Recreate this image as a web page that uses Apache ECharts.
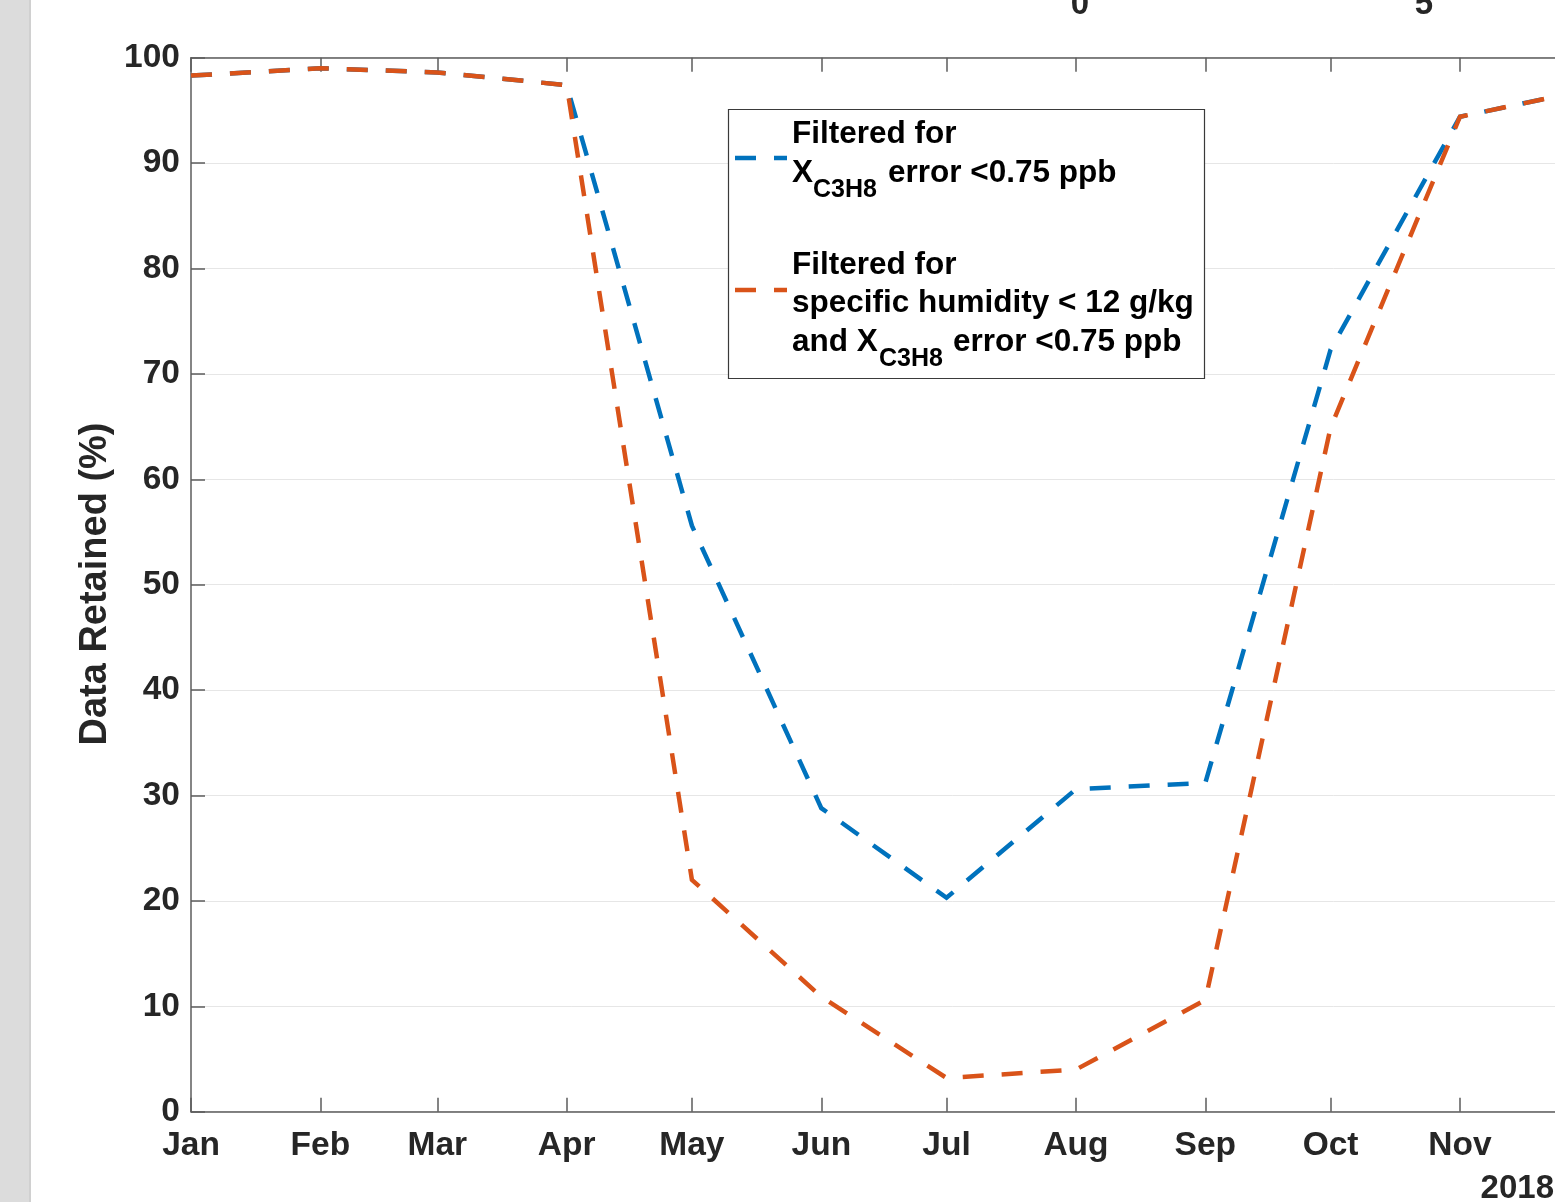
<!DOCTYPE html>
<html>
<head>
<meta charset="utf-8">
<title>Data Retained (%)</title>
<script src="https://cdn.jsdelivr.net/npm/echarts@6/dist/echarts.min.js"></script>
<style>
  html, body { margin: 0; padding: 0; background: #ffffff; overflow: hidden; }
  #chart { width: 1800px; height: 1202px; }
</style>
</head>
<body>
<div id="chart"></div>
<script>
// Monthly share of soundings kept after each filter, 2018
const monthNames = ['Jan', 'Feb', 'Mar', 'Apr', 'May', 'Jun', 'Jul', 'Aug', 'Sep', 'Oct', 'Nov', 'Dec'];
const sampleDates = ['2018-01-01', '2018-02-01', '2018-03-01', '2018-04-01', '2018-05-01', '2018-06-01',
                     '2018-07-01', '2018-08-01', '2018-09-01', '2018-10-01', '2018-11-01', '2018-12-01'];
const errorFiltered    = [98.3, 99.0, 98.6, 97.4, 55.6, 28.8, 20.3, 30.6, 31.2, 72.3, 94.4, 96.9];
const humidityFiltered = [98.3, 99.0, 98.6, 97.4, 22.0, 10.9, 3.2, 4.0, 10.6, 64.9, 94.4, 96.9];
const axisStart = '2018-01-01';
const axisEnd = '2019-01-01';
const yMin = 0, yMax = 100, yStep = 10;
const yearLabel = '2018';
const upperTickTexts = [['0', 1080], ['5', 1424]];

const FONT = '"Liberation Sans", Arial, Helvetica, sans-serif';
const TEXT = '#262626';
const AXIS = '#5c5c5c';
const BLUE = '#0072BD';
const ORANGE = '#D95319';
const DASH = [21, 18];
const DAY = 86400000;

// days elapsed since the start of the axis (UTC, so no DST shifts)
function utc(s) {
  const p = s.split('-').map(Number);
  return Date.UTC(p[0], p[1] - 1, p[2]);
}
const t0 = utc(axisStart);
const toDay = (s) => (utc(s) - t0) / DAY;
const dayToMonth = (d) => monthNames[new Date(t0 + d * DAY).getUTCMonth()];
const monthTicks = sampleDates.map(toDay);
const pairs = (vals) => sampleDates.map((d, i) => [toDay(d), vals[i]]);

const chart = echarts.init(document.getElementById('chart'), null, { renderer: 'canvas' });

const legendText = (text, x, y, size) => ({
  type: 'text', x: x, y: y, z: 102, silent: true,
  style: { text: text, fill: '#000', font: 'bold ' + size + 'px ' + FONT, align: 'left', verticalAlign: 'middle' }
});
const legendSample = (color, y) => ({
  type: 'line', z: 102, silent: true,
  shape: { x1: 735, y1: y, x2: 787, y2: y },
  style: { stroke: color, lineWidth: 4.5, lineDash: DASH, lineCap: 'butt' }
});

const LG = 31.5, SUB = 25;
const graphics = [
  { type: 'rect', z: 100, silent: true, shape: { x: 0, y: 0, width: 30, height: 1202 }, style: { fill: '#dcdcdc' } },
  { type: 'rect', z: 100, silent: true, shape: { x: 29, y: 0, width: 2, height: 1202 }, style: { fill: '#d0d0d0' } },
  {
    type: 'text', x: 96, y: 584, rotation: Math.PI / 2, z: 100, silent: true,
    style: { text: 'Data Retained (%)', fill: TEXT, font: 'bold 38px ' + FONT, align: 'center', verticalAlign: 'middle' }
  },
  {
    type: 'text', x: 1554, y: 1189, z: 100, silent: true,
    style: { text: yearLabel, fill: TEXT, font: 'bold 33px ' + FONT, align: 'right', verticalAlign: 'middle' }
  },
  // legend box
  {
    type: 'rect', z: 101, silent: true,
    shape: { x: 728.5, y: 109.5, width: 476, height: 269 },
    style: { fill: '#ffffff', stroke: '#3a3a3a', lineWidth: 1.2 }
  },
  legendSample(BLUE, 158),
  legendText('Filtered for', 792, 134, LG),
  legendText('X', 792, 173, LG),
  legendText('C3H8', 813, 190, SUB),
  legendText('error <0.75 ppb', 888, 173, LG),
  legendSample(ORANGE, 290),
  legendText('Filtered for', 792, 265, LG),
  legendText('specific humidity < 12 g/kg', 792, 303, LG),
  legendText('and X', 792, 342, LG),
  legendText('C3H8', 879, 359, SUB),
  legendText('error <0.75 ppb', 953, 342, LG)
];
upperTickTexts.forEach(([t, x]) => graphics.push({
  type: 'text', x: x, y: 5, z: 100, silent: true,
  style: { text: t, fill: TEXT, font: 'bold 33px ' + FONT, align: 'center', verticalAlign: 'middle' }
}));

const xBase = {
  type: 'value',
  min: 0,
  max: toDay(axisEnd),
  axisLine: { show: true, onZero: false, lineStyle: { color: AXIS, width: 1.5 } },
  axisTick: { show: true, inside: true, length: 14, customValues: monthTicks, lineStyle: { color: AXIS, width: 1.5 } },
  splitLine: { show: false },
  minorTick: { show: false }
};

chart.setOption({
  animation: false,
  backgroundColor: '#ffffff',
  grid: { left: 191, top: 57.7, right: 1800 - 1714.6, bottom: 1202 - 1111.7, containLabel: false },
  xAxis: [
    Object.assign({}, xBase, {
      position: 'bottom',
      axisLabel: {
        show: true, margin: 17, customValues: monthTicks, hideOverlap: false,
        color: TEXT, fontFamily: FONT, fontWeight: 'bold', fontSize: 33.5,
        formatter: (v) => dayToMonth(v)
      }
    }),
    Object.assign({}, xBase, { position: 'top', axisLabel: { show: false } })
  ],
  yAxis: {
    type: 'value', min: yMin, max: yMax, interval: yStep,
    axisLine: { show: true, lineStyle: { color: AXIS, width: 1.5 } },
    axisTick: { show: true, inside: true, length: 14, lineStyle: { color: AXIS, width: 1.5 } },
    axisLabel: { margin: 11, padding: [5, 0, 0, 0], color: TEXT, fontFamily: FONT, fontWeight: 'bold', fontSize: 33.5 },
    splitLine: { show: true, lineStyle: { color: '#e6e6e6', width: 1 } }
  },
  graphic: graphics,
  series: [
    {
      name: 'Filtered for XC3H8 error <0.75 ppb',
      type: 'line', xAxisIndex: 0, data: pairs(errorFiltered),
      symbol: 'none', silent: true, z: 3,
      lineStyle: { color: BLUE, width: 4.5, type: DASH, cap: 'butt', join: 'miter' }
    },
    {
      name: 'Filtered for specific humidity < 12 g/kg and XC3H8 error <0.75 ppb',
      type: 'line', xAxisIndex: 0, data: pairs(humidityFiltered),
      symbol: 'none', silent: true, z: 4,
      lineStyle: { color: ORANGE, width: 4.5, type: DASH, cap: 'butt', join: 'miter' }
    }
  ]
});
</script>
</body>
</html>
